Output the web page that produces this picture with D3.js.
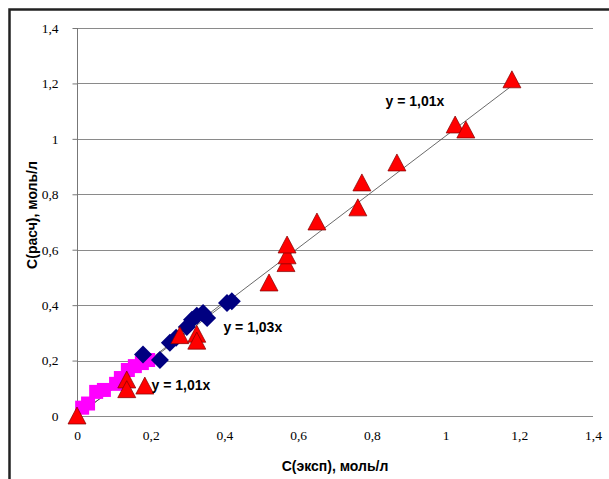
<html lang="ru">
<head>
<meta charset="utf-8">
<title>C(расч) vs C(эксп)</title>
<script src="https://cdn.jsdelivr.net/npm/d3@7"></script>
<style>
    body { margin: 0; background: #fff; }
    .tick text { font-family: "Liberation Serif", serif; font-size: 13.5px; fill: #000; }
</style>
</head>
<body>
<script>
// data
var xTicks = [0, 0.2, 0.4, 0.6, 0.8, 1, 1.2, 1.4];
var yTicks = [0, 0.2, 0.4, 0.6, 0.8, 1, 1.2, 1.4];

var pinkX = [0.014, 0.03, 0.052, 0.073, 0.106, 0.119, 0.138, 0.157, 0.176, 0.193];
var pinkY = [0.03, 0.045, 0.087, 0.094, 0.116, 0.137, 0.166, 0.18, 0.191, 0.202];

var blueX = [0.179, 0.225, 0.252, 0.269, 0.298, 0.312, 0.325, 0.342, 0.353, 0.407, 0.420];
var blueY = [0.222, 0.202, 0.264, 0.282, 0.321, 0.347, 0.362, 0.372, 0.354, 0.408, 0.414];

var redX = [0, 0.135, 0.135, 0.184, 0.279, 0.325, 0.325, 0.521, 0.567, 0.57, 0.57, 0.651, 0.762, 0.773, 0.868, 1.026, 1.055, 1.18];
var redY = [0, 0.13, 0.095, 0.108, 0.29, 0.295, 0.27, 0.48, 0.55, 0.578, 0.617, 0.70, 0.751, 0.841, 0.913, 1.05, 1.032, 1.213];

// trend lines: slope, x range
var trends = [
    { k: 1.01, x0: 0, x1: 0.2 },
    { k: 1.03, x0: 0.17, x1: 0.42 },
    { k: 1.01, x0: 0, x1: 1.18 }
];
var eqLabels = ["y = 1,01x", "y = 1,03x", "y = 1,01x"];
var eqPos = [[0.282, 0.094], [0.477, 0.303], [0.917, 1.12]];

var w = 609, h = 479;
var plotL = 77, plotR = 593, plotT = 28, plotB = 416;

var svg = d3.select("body").append("svg")
    .attr("width", w)
    .attr("height", h);

// outer frame
svg.append("rect")
    .attr("x", 9.5).attr("y", 9.5)
    .attr("width", w + 20).attr("height", h + 20)
    .attr("fill", "none")
    .attr("stroke", "#222")
    .attr("stroke-width", 2.5);

var x = d3.scaleLinear().domain([0, 1.4]).range([plotL, plotR]);
var y = d3.scaleLinear().domain([0, 1.4]).range([plotB, plotT]);

// horizontal grid
svg.selectAll("line.grid")
    .data(yTicks)
    .enter()
    .append("line")
    .attr("class", "grid")
    .attr("x1", plotL).attr("x2", plotR)
    .attr("y1", function(d) { return Math.round(y(d)) + 0.5; })
    .attr("y2", function(d) { return Math.round(y(d)) + 0.5; })
    .attr("stroke", "#8a8a8a")
    .attr("stroke-width", 1);

// y axis
var yAxis = svg.append("g")
    .attr("transform", "translate(" + (plotL + 0.5) + ",0)")
    .call(d3.axisLeft(y).tickValues(yTicks).tickSize(5).tickPadding(14)
        .tickFormat(function(d) { return String(d).replace(".", ","); }));
yAxis.selectAll("line, path").attr("stroke", "#777");
yAxis.select("path").attr("d", "M0," + y(0) + "V" + y(1.4));

// x axis labels
var xAxis = svg.append("g")
    .attr("transform", "translate(0," + (plotB + 0.5) + ")")
    .call(d3.axisBottom(x).tickValues(xTicks).tickSize(0).tickPadding(14)
        .tickFormat(function(d) { return String(d).replace(".", ","); }));
xAxis.select("path").remove();

// trend lines
svg.selectAll("line.trend")
    .data(trends)
    .enter()
    .append("line")
    .attr("class", "trend")
    .attr("x1", function(d) { return x(d.x0); })
    .attr("y1", function(d) { return y(d.k * d.x0); })
    .attr("x2", function(d) { return x(d.x1); })
    .attr("y2", function(d) { return y(d.k * d.x1); })
    .attr("stroke", "#444")
    .attr("stroke-width", 0.8);

// pink squares
svg.selectAll("rect.pink")
    .data(d3.range(pinkX.length))
    .enter()
    .append("rect")
    .attr("class", "pink")
    .attr("x", function(i) { return x(pinkX[i]) - 7; })
    .attr("y", function(i) { return y(pinkY[i]) - 7; })
    .attr("width", 14).attr("height", 14)
    .attr("fill", "#ff00ff");

// blue diamonds
svg.selectAll("path.blue")
    .data(d3.range(blueX.length))
    .enter()
    .append("path")
    .attr("class", "blue")
    .attr("d", "M0,-9L9,0L0,9L-9,0Z")
    .attr("transform", function(i) { return "translate(" + x(blueX[i]) + "," + y(blueY[i]) + ")"; })
    .attr("fill", "#000080");

// red triangles
svg.selectAll("path.red")
    .data(d3.range(redX.length))
    .enter()
    .append("path")
    .attr("class", "red")
    .attr("d", "M0,-9L9,8L-9,8Z")
    .attr("transform", function(i) { return "translate(" + x(redX[i]) + "," + y(redY[i]) + ")"; })
    .attr("fill", "#ff0000")
    .attr("stroke", "#800000")
    .attr("stroke-width", 0.7);

// equation labels
svg.selectAll("text.eq")
    .data(eqLabels)
    .enter()
    .append("text")
    .attr("class", "eq")
    .text(function(d) { return d; })
    .attr("x", function(d, i) { return x(eqPos[i][0]); })
    .attr("y", function(d, i) { return y(eqPos[i][1]); })
    .attr("text-anchor", "middle")
    .attr("font-family", "Liberation Sans, Arial, sans-serif")
    .attr("font-weight", "bold")
    .attr("font-size", "14px")
    .attr("fill", "#000");

// axis titles
svg.append("text")
    .text("C(эксп), моль/л")
    .attr("x", 335).attr("y", 471)
    .attr("text-anchor", "middle")
    .attr("font-family", "Liberation Sans, Arial, sans-serif")
    .attr("font-weight", "bold")
    .attr("font-size", "14px");

svg.append("text")
    .text("C(расч), моль/л")
    .attr("transform", "translate(37,215) rotate(-90)")
    .attr("text-anchor", "middle")
    .attr("font-family", "Liberation Sans, Arial, sans-serif")
    .attr("font-weight", "bold")
    .attr("font-size", "14px");
</script>
</body>
</html>
